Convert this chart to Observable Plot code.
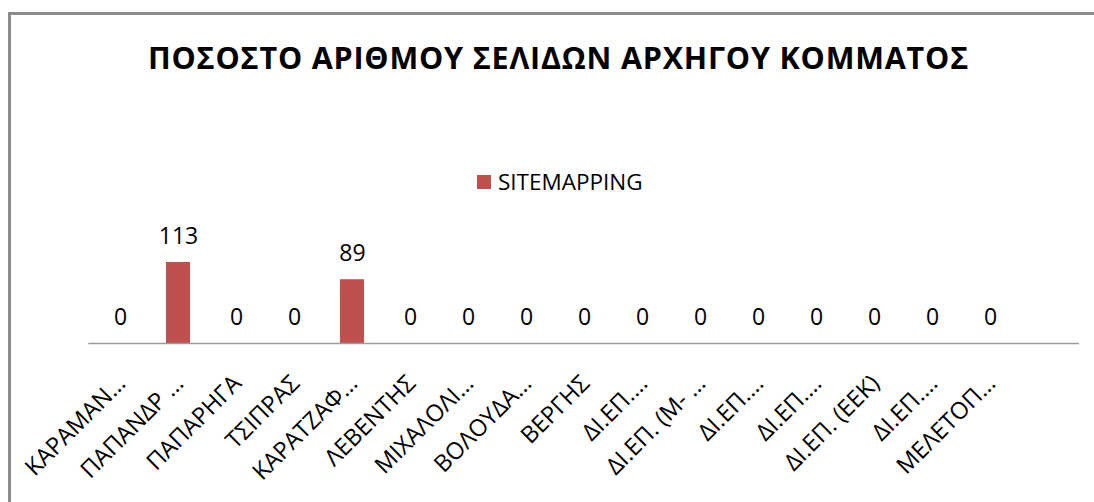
<!DOCTYPE html>
<html>
<head>
<meta charset="utf-8">
<script src="https://cdn.jsdelivr.net/npm/d3@7"></script>
<script src="https://cdn.jsdelivr.net/npm/@observablehq/plot@0.6"></script>
<style>
  html, body { margin: 0; padding: 0; background: #fff; }
  #wrap { position: relative; width: 1094px; height: 502px; overflow: hidden; font-family: "Open Sans", sans-serif; }
  #frame { position: absolute; left: 8px; top: 12px; right: -20px; bottom: -20px; border-left: 3px solid #8c8c8c; border-top: 3px solid #8c8c8c; }
  #title { position: absolute; left: 0; width: 1117px; top: 42px; text-align: center; font-weight: 700; font-size: 30.5px; line-height: 30px; letter-spacing: 0.8px; color: #000; white-space: nowrap; }
  #legend { position: absolute; left: 477px; top: 171px; font-size: 22.5px; line-height: 22px; color: #000; white-space: nowrap; display: flex; align-items: center; }
  #legend .sw { display: inline-block; width: 14px; height: 14px; background: #c0504d; margin-right: 7px; }
  #chart { position: absolute; left: 0; top: 200px; }
</style>
</head>
<body>
<div id="wrap">
  <div id="frame"></div>
  <div id="title"></div>
  <div id="legend"><span class="sw"></span><span id="legtxt"></span></div>
  <div id="chart"></div>
</div>
<script>
const titleText = "ΠΟΣΟΣΤΟ ΑΡΙΘΜΟΥ ΣΕΛΙΔΩΝ ΑΡΧΗΓΟΥ ΚΟΜΜΑΤΟΣ";
const seriesName = "SITEMAPPING";
const categories = [
  "ΚΑΡΑΜΑΝ…", "ΠΑΠΑΝΔΡ …", "ΠΑΠΑΡΗΓΑ", "ΤΣΙΠΡΑΣ", "ΚΑΡΑΤΖΑΦ…", "ΛΕΒΕΝΤΗΣ",
  "ΜΙΧΑΛΟΛΙ…", "ΒΟΛΟΥΔΑ…", "ΒΕΡΓΗΣ", "ΔΙ.ΕΠ.…", "ΔΙ.ΕΠ. (Μ- …", "ΔΙ.ΕΠ.…",
  "ΔΙ.ΕΠ.…", "ΔΙ.ΕΠ. (ΕΕΚ)", "ΔΙ.ΕΠ.…", "ΜΕΛΕΤΟΠ…"
];
const values = [0, 113, 0, 0, 89, 0, 0, 0, 0, 0, 0, 0, 0, 0, 0, 0];

document.getElementById("title").textContent = titleText;
document.getElementById("legtxt").textContent = seriesName;

const idx = d3.range(categories.length);
const barColor = "#c0504d";

const chart = Plot.plot({
  width: 1094,
  height: 302,
  marginLeft: 88.3,
  marginRight: 72.9,
  marginTop: 57,
  marginBottom: 159,
  style: { fontFamily: "Open Sans", fontSize: "22px", color: "#000", background: "transparent" },
  x: { type: "band", domain: idx, paddingInner: 0.59, paddingOuter: 0.295, axis: null },
  y: { domain: [0, 120], axis: null },
  marks: [
    Plot.barY(idx, { x: i => i, y: i => values[i], fill: barColor }),
    Plot.ruleY([0], { stroke: "#9a9a9a", strokeWidth: 1.5, insetRight: -58 }),
    Plot.text(idx, { x: i => i, y: i => values[i], text: i => String(values[i]), dy: -18.5, lineAnchor: "bottom", fill: "#000", fontSize: 23 }),
    Plot.text(idx, { x: i => i, frameAnchor: "bottom", text: i => categories[i], rotate: -45, textAnchor: "end", lineAnchor: "middle", dx: 1, dy: 36, fill: "#000", fontSize: 23.5 })
  ]
});
document.getElementById("chart").appendChild(chart);
</script>
</body>
</html>
